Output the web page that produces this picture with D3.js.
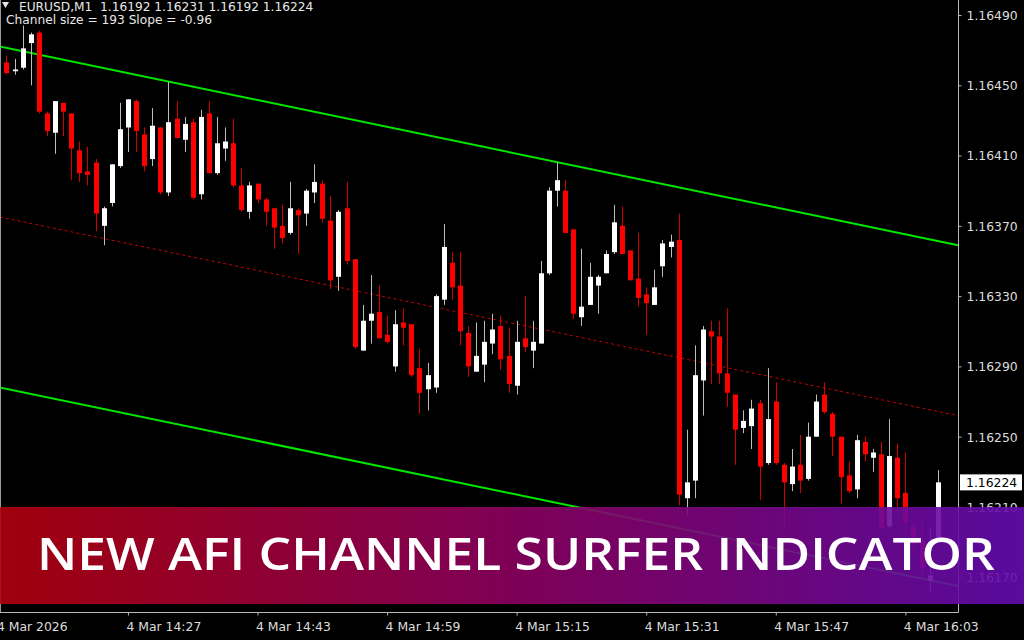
<!DOCTYPE html>
<html>
<head>
<meta charset="utf-8">
<script src="https://cdn.jsdelivr.net/npm/d3@7"></script>
<style>
html,body{margin:0;padding:0;background:#000;}
svg{display:block;}
</style>
</head>
<body>
<svg id="chart" width="1024" height="640"></svg>
<script>
// ---------- DATA ----------
const symbol = "EURUSD,M1";
const channelInfo = "Channel size = 193 Slope = -0.96";
const bannerTitle = "NEW AFI CHANNEL SURFER INDICATOR";
const firstBarTime = "14:12"; // M1 bars, one per minute

const candleOpen = [1.16463,1.16458,1.16460,1.16474,1.16480,1.16434,1.16423,1.16440,1.16434,1.16413,
1.16401,1.16406,1.16370,1.16383,1.16404,1.16426,1.16441,1.16422,1.16408,1.16426,
1.16389,1.16431,1.16419,1.16429,1.16388,1.16434,1.16400,1.16414,1.16417,1.16393,
1.16378,1.16394,1.16385,1.16380,1.16370,1.16366,1.16379,1.16377,1.16389,1.16394,
1.16373,1.16341,1.16380,1.16351,1.16299,1.16316,1.16321,1.16308,1.16290,1.16315,
1.16314,1.16289,1.16277,1.16278,1.16328,1.16349,1.16336,1.16309,1.16287,1.16291,
1.16303,1.16313,1.16296,1.16279,1.16306,1.16299,1.16303,1.16343,1.16390,1.16390,
1.16368,1.16318,1.16325,1.16336,1.16343,1.16355,1.16370,1.16356,1.16340,1.16331,
1.16325,1.16347,1.16358,1.16362,1.16215,1.16225,1.16282,1.16310,1.16307,1.16286,
1.16274,1.16255,1.16256,1.16269,1.16235,1.16270,1.16234,1.16223,1.16234,1.16226,
1.16250,1.16274,1.16263,1.16250,1.16228,1.16220,1.16247,1.16238,1.16240,1.16199,
1.16238,1.16218,1.16199,1.16191,1.16168,1.16192];
const candleHigh = [1.16467,1.16465,1.16484,1.16480,1.16481,1.16435,1.16441,1.16440,1.16434,1.16418,
1.16415,1.16408,1.16381,1.16405,1.16440,1.16442,1.16442,1.16426,1.16437,1.16426,
1.16452,1.16441,1.16432,1.16431,1.16436,1.16441,1.16432,1.16426,1.16431,1.16403,
1.16395,1.16394,1.16386,1.16380,1.16382,1.16395,1.16380,1.16391,1.16405,1.16396,
1.16387,1.16379,1.16395,1.16351,1.16325,1.16342,1.16336,1.16319,1.16322,1.16323,
1.16314,1.16300,1.16292,1.16331,1.16371,1.16355,1.16355,1.16313,1.16315,1.16316,
1.16320,1.16319,1.16312,1.16316,1.16330,1.16316,1.16350,1.16392,1.16406,1.16396,
1.16368,1.16357,1.16349,1.16342,1.16356,1.16382,1.16381,1.16356,1.16366,1.16335,
1.16345,1.16362,1.16365,1.16377,1.16254,1.16302,1.16313,1.16316,1.16316,1.16323,
1.16274,1.16265,1.16271,1.16271,1.16289,1.16281,1.16235,1.16243,1.16251,1.16258,
1.16274,1.16281,1.16264,1.16250,1.16236,1.16251,1.16250,1.16243,1.16247,1.16260,
1.16246,1.16241,1.16204,1.16204,1.16198,1.16231];
const candleLow = [1.16456,1.16456,1.16459,1.16450,1.16434,1.16421,1.16411,1.16421,1.16396,1.16395,
1.16393,1.16367,1.16359,1.16381,1.16403,1.16412,1.16412,1.16401,1.16404,1.16388,
1.16387,1.16420,1.16412,1.16385,1.16385,1.16400,1.16399,1.16407,1.16392,1.16378,
1.16374,1.16383,1.16370,1.16357,1.16360,1.16365,1.16354,1.16370,1.16383,1.16372,
1.16334,1.16333,1.16348,1.16300,1.16299,1.16303,1.16306,1.16303,1.16287,1.16302,
1.16284,1.16263,1.16265,1.16275,1.16325,1.16328,1.16302,1.16284,1.16287,1.16281,
1.16297,1.16288,1.16275,1.16274,1.16298,1.16289,1.16303,1.16342,1.16381,1.16366,
1.16317,1.16313,1.16325,1.16320,1.16343,1.16354,1.16354,1.16339,1.16324,1.16308,
1.16325,1.16341,1.16352,1.16211,1.16205,1.16215,1.16262,1.16280,1.16280,1.16267,
1.16234,1.16252,1.16243,1.16214,1.16234,1.16234,1.16199,1.16219,1.16218,1.16225,
1.16250,1.16263,1.16239,1.16212,1.16218,1.16215,1.16236,1.16230,1.16197,1.16198,
1.16206,1.16195,1.16183,1.16170,1.16161,1.16192];
const candleClose = [1.16457,1.16459,1.16471,1.16479,1.16435,1.16424,1.16441,1.16435,1.16414,1.16400,
1.16399,1.16377,1.16380,1.16405,1.16425,1.16442,1.16424,1.16404,1.16427,1.16389,
1.16429,1.16420,1.16428,1.16386,1.16432,1.16400,1.16417,1.16418,1.16393,1.16379,
1.16393,1.16385,1.16378,1.16369,1.16363,1.16380,1.16376,1.16390,1.16395,1.16374,
1.16339,1.16378,1.16350,1.16301,1.16316,1.16320,1.16306,1.16304,1.16314,1.16312,
1.16285,1.16275,1.16285,1.16330,1.16358,1.16335,1.16310,1.16290,1.16296,1.16304,
1.16311,1.16294,1.16280,1.16304,1.16301,1.16304,1.16343,1.16390,1.16396,1.16366,
1.16320,1.16324,1.16341,1.16341,1.16354,1.16372,1.16354,1.16339,1.16329,1.16326,
1.16335,1.16360,1.16361,1.16217,1.16224,1.16285,1.16311,1.16307,1.16286,1.16275,
1.16254,1.16259,1.16266,1.16233,1.16260,1.16235,1.16224,1.16233,1.16225,1.16250,
1.16270,1.16264,1.16250,1.16227,1.16219,1.16248,1.16240,1.16241,1.16198,1.16239,
1.16215,1.16201,1.16189,1.16175,1.16171,1.16224];

// channel lines: price at the left and right edge of the visible window
const channelBars  = [-0.8, 117.5];
const upperChannel = [1.16472, 1.16359];
const midChannel   = [1.16375, 1.16262];
const lowerChannel = [1.16278, 1.16165];

// axes
const priceTicks = [1.16490,1.16450,1.16410,1.16370,1.16330,1.16290,1.16250,1.16210,1.16170];
const timeTickBars = [-1, 15, 31, 47, 63, 79, 95, 111];
const timeTickLabels = ["4 Mar 2026","4 Mar 14:27","4 Mar 14:43","4 Mar 14:59","4 Mar 15:15","4 Mar 15:31","4 Mar 15:47","4 Mar 16:03"];

// ---------- LAYOUT ----------
const W = 1024, H = 640;
const plotRight = 958.5, plotBottom = 612.5;
const svg = d3.select("#chart");
svg.append("rect").attr("width", W).attr("height", H).attr("fill", "#000");

const candles = candleOpen.map((o, i) => ({i, o, h: candleHigh[i], l: candleLow[i], c: candleClose[i]}));

const x = d3.scaleLinear().domain(channelBars).range([0, 958]);
const y = d3.scaleLinear().domain([1.1614965, 1.1649854]).range([613, 0]);

const defs = svg.append("defs");
defs.append("clipPath").attr("id", "plotClip")
  .append("rect").attr("x", 1).attr("y", 0).attr("width", plotRight - 1).attr("height", plotBottom);

const plot = svg.append("g").attr("clip-path", "url(#plotClip)");

// channel lines
function chanLine(vals){
  return d3.line().x((d,k)=>x(channelBars[k])).y(d=>y(d))(vals);
}
plot.append("path").attr("d", chanLine(midChannel)).attr("fill","none")
  .attr("stroke","#c80000").attr("stroke-width",1).attr("stroke-dasharray","3,3");
plot.append("path").attr("d", chanLine(upperChannel)).attr("fill","none")
  .attr("stroke","#00e800").attr("stroke-width",2);
plot.append("path").attr("d", chanLine(lowerChannel)).attr("fill","none")
  .attr("stroke","#00e800").attr("stroke-width",2);

// candles
const bodyW = 5;
const cg = plot.append("g");
cg.selectAll("line.wick").data(candles).join("line")
  .attr("class","wick")
  .attr("x1", d => Math.round(x(d.i)) + 0.5)
  .attr("x2", d => Math.round(x(d.i)) + 0.5)
  .attr("y1", d => y(d.h))
  .attr("y2", d => y(d.l))
  .attr("stroke", d => d.c >= d.o ? "#bdbdbd" : "#d40000")
  .attr("stroke-width", 1);
cg.selectAll("rect.body").data(candles).join("rect")
  .attr("class","body")
  .attr("x", d => Math.round(x(d.i)) + 0.5 - bodyW/2)
  .attr("y", d => y(Math.max(d.o, d.c)))
  .attr("width", bodyW)
  .attr("height", d => Math.max(1.5, Math.abs(y(d.o) - y(d.c))))
  .attr("fill", d => d.c >= d.o ? "#ffffff" : "#ff0000");

// frame
svg.append("line").attr("x1",0.5).attr("x2",0.5).attr("y1",0).attr("y2",plotBottom).attr("stroke","#9a9a9a");
svg.append("line").attr("x1",plotRight).attr("x2",plotRight).attr("y1",0).attr("y2",plotBottom).attr("stroke","#b8b8b8");
svg.append("line").attr("x1",0).attr("x2",plotRight).attr("y1",plotBottom).attr("y2",plotBottom).attr("stroke","#b8b8b8");

// price axis
const yAxis = d3.axisRight(y).tickValues(priceTicks).tickSize(3).tickPadding(5).tickFormat(d3.format(".5f"));
const ya = svg.append("g").attr("transform", `translate(${plotRight},0)`).call(yAxis);
ya.select(".domain").remove();
ya.selectAll(".tick line").attr("stroke","#b8b8b8");
ya.selectAll(".tick text").attr("fill","#dcdcdc").attr("font-family","DejaVu Sans, Tahoma, sans-serif")
  .attr("font-size","12.4px").attr("dy","0.35em");

// time axis
const xAxis = d3.axisBottom(x).tickValues(timeTickBars).tickSize(3).tickFormat((d,k)=>timeTickLabels[k]);
const xa = svg.append("g").attr("transform", `translate(0,${plotBottom})`).call(xAxis);
xa.select(".domain").remove();
xa.selectAll(".tick line").attr("stroke","#b8b8b8");
xa.selectAll(".tick text").attr("fill","#dcdcdc").attr("font-family","DejaVu Sans, Tahoma, sans-serif")
  .attr("font-size","12.4px").attr("text-anchor","start").attr("x",-2).attr("y",18).attr("dy",0);

// last price label
const last = candles[candles.length-1];
const lastG = svg.append("g");
lastG.append("rect").attr("x", plotRight + 1.5).attr("y", y(last.c) - 8).attr("width", 62).attr("height", 16).attr("fill","#ffffff");
lastG.append("text").attr("x", plotRight + 7.5).attr("y", y(last.c)).attr("dy","0.35em")
  .attr("fill","#000").attr("font-family","DejaVu Sans, Tahoma, sans-serif").attr("font-size","12.4px")
  .text(d3.format(".5f")(last.c));

// header
const fmt = d3.format(".5f");
svg.append("path").attr("d","M2,2 L9,2 L5.5,8 Z").attr("fill","#e8e8e8");
svg.append("text").attr("x",19).attr("y",11).attr("fill","#e8e8e8")
  .attr("font-family","DejaVu Sans, Tahoma, sans-serif").attr("font-size","12.2px")
  .attr("xml:space","preserve").style("white-space","pre")
  .text(`${symbol}  ${fmt(last.o)} ${fmt(last.h)} ${fmt(last.l)} ${fmt(last.c)}`);
svg.append("text").attr("x",6).attr("y",23.5).attr("fill","#e8e8e8")
  .attr("font-family","DejaVu Sans, Tahoma, sans-serif").attr("font-size","12.2px")
  .text(channelInfo);

// banner
const grad = defs.append("linearGradient").attr("id","bannerGrad").attr("x1","0%").attr("x2","100%").attr("y1","0%").attr("y2","0%");
grad.append("stop").attr("offset","0%").attr("stop-color","#b2000e");
grad.append("stop").attr("offset","50%").attr("stop-color","#8c0060");
grad.append("stop").attr("offset","100%").attr("stop-color","#620cae");
svg.append("rect").attr("x",0).attr("y",507).attr("width",W).attr("height",97)
  .attr("fill","url(#bannerGrad)").attr("opacity",0.9);
svg.append("text").attr("x",37).attr("y",570).attr("fill","#ffffff")
  .attr("font-family","'Open Sans', Lato, sans-serif").attr("font-weight",600)
  .attr("font-size","46px").attr("textLength",958).attr("lengthAdjust","spacingAndGlyphs")
  .text(bannerTitle);
</script>
</body>
</html>
